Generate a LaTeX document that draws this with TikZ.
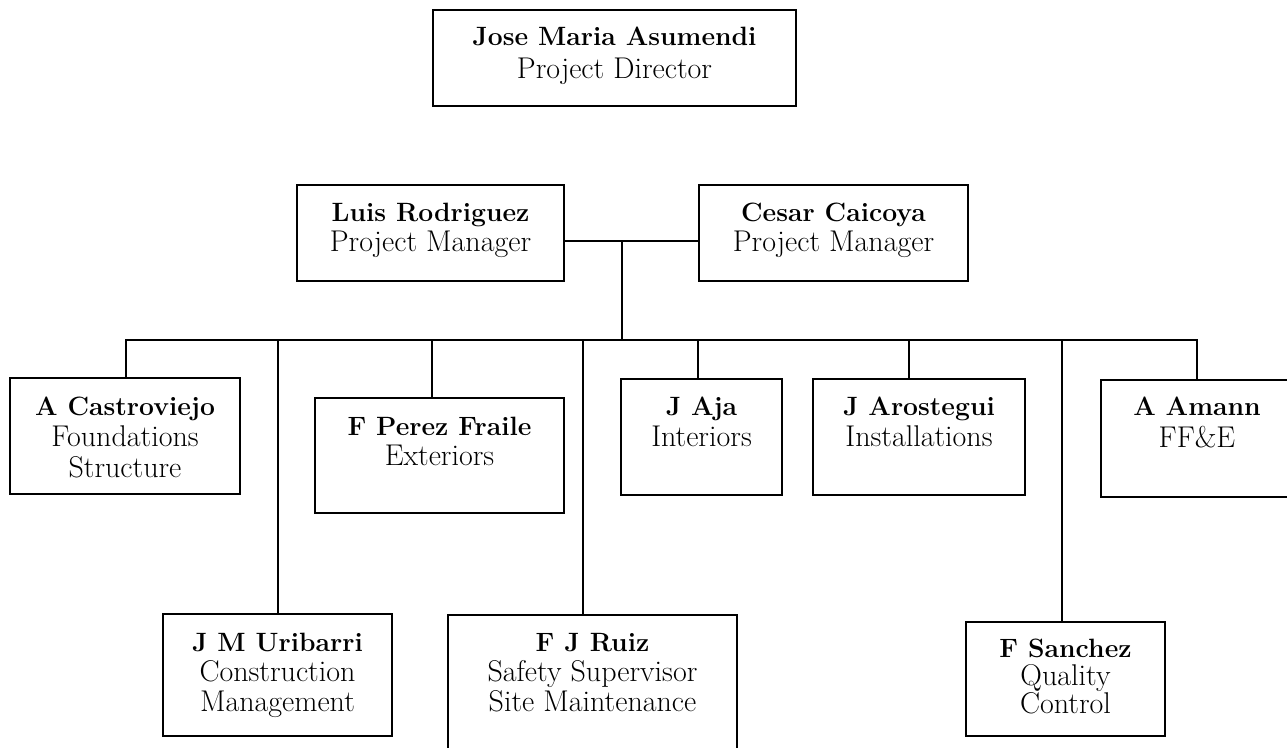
\documentclass[tikz,border=0pt]{standalone}
\usetikzlibrary{fit}
\newcommand\who[1]{{\fontsize{26.5}{31}\selectfont\bfseries #1}}
\tikzset{
  x=1pt, y=-1pt,
  box/.style={draw, line width=1.6pt, inner sep=0pt},
  conn/.style={line width=1.3pt, line join=miter},
  txt/.style={align=center, inner sep=0pt, anchor=north,
              font=\fontsize{30}{#1}\selectfont},
  txt/.default=31
}
\begin{document}
\begin{tikzpicture}
  \fill[white] (0,0) rectangle (1287,747);
  \clip (0,0) rectangle (1287,747);

  % boxes
  \node[box, fit={(433,10) (796,106)}]   (dir)   {};
  \node[box, fit={(297,185) (564,281)}]  (luis)  {};
  \node[box, fit={(699,185) (968,281)}]  (cesar) {};
  \node[box, fit={(10,378) (240,494)}]   (castro){};
  \node[box, fit={(315,398) (564,513)}]  (perez) {};
  \node[box, fit={(621,379) (782,495)}]  (aja)   {};
  \node[box, fit={(813,379) (1025,495)}] (aros)  {};
  \node[box, fit={(1101,380) (1293,497)}](amann) {};
  \node[box, fit={(163,614) (392,736)}]  (urib)  {};
  \node[box, fit={(448,615) (737,775)}]  (ruiz)  {};
  \node[box, fit={(966,622) (1165,736)}] (sanch) {};

  % texts
  \node[txt=33] at ([yshift=-18pt]dir.north)   {\who{Jose Maria Asumendi}\\Project Director};
  \node[txt=30] at ([yshift=-19pt]luis.north)  {\who{Luis Rodriguez}\\Project Manager};
  \node[txt=30] at ([yshift=-19pt]cesar.north) {\who{Cesar Caicoya}\\Project Manager};
  \node[txt]    at ([yshift=-20pt]castro.north){\who{A Castroviejo}\\Foundations\\Structure};
  \node[txt=30] at ([yshift=-20pt]perez.north) {\who{F Perez Fraile}\\Exteriors};
  \node[txt]    at ([yshift=-19pt]aja.north)   {\who{J Aja}\\Interiors};
  \node[txt]    at ([yshift=-19pt]aros.north)  {\who{J Arostegui}\\Installations};
  \node[txt=32] at ([yshift=-18pt]amann.north-|1197,0) {\who{A Amann}\\FF\&E};
  \node[txt=30] at ([yshift=-20pt]urib.north)  {\who{J M Uribarri}\\Construction\\Management};
  \node[txt=30] at ([yshift=-19pt]ruiz.north)  {\who{F J Ruiz}\\Safety Supervisor\\Site Maintenance};
  \node[txt=28] at ([yshift=-18pt]sanch.north) {\who{F Sanchez}\\Quality\\Control};

  % managers and bus
  \coordinate (link) at (622,241);
  \coordinate (hub)  at (622,340);
  \draw[conn] (luis.east |- link) -- (cesar.west |- link);
  \draw[conn] (link) -- (hub);

  \foreach \x/\n in {126/castro, 278/urib, 432/perez, 583/ruiz,
                     698/aja, 909/aros, 1062/sanch, 1197/amann}
    \coordinate (drop-\n) at (\x,340);

  \draw[conn] (drop-castro |- castro.north) -- (drop-castro)
              -- (drop-amann) -- (drop-amann |- amann.north);
  \foreach \n in {urib, perez, ruiz, aja, aros, sanch}
    \draw[conn] (drop-\n) -- (drop-\n |- \n.north);
\end{tikzpicture}
\end{document}
